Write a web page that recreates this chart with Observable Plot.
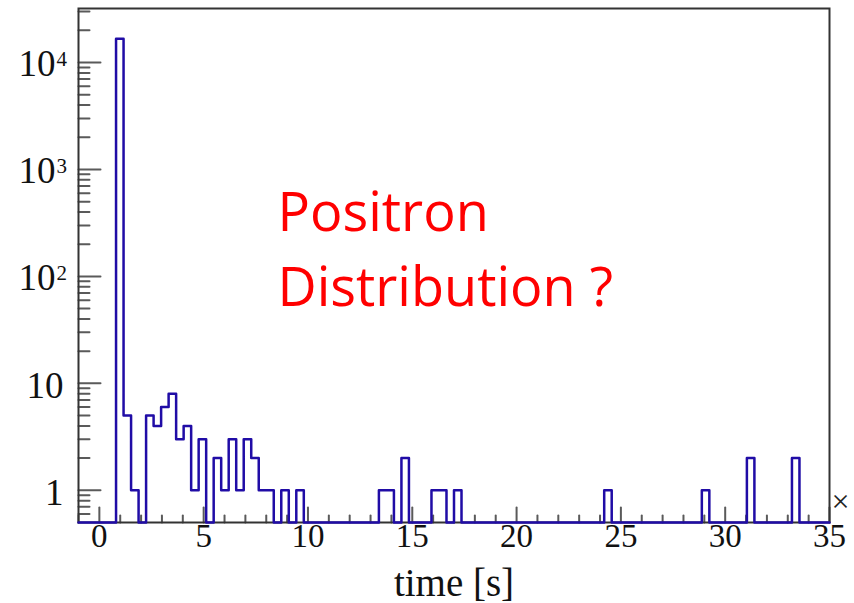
<!DOCTYPE html>
<html>
<head>
<meta charset="utf-8">
<script src="https://cdn.jsdelivr.net/npm/d3@7"></script>
<script src="https://cdn.jsdelivr.net/npm/@observablehq/plot@0.6"></script>
<style>
  html, body { margin: 0; padding: 0; background: #fff; }
</style>
</head>
<body>
<div id="chart"></div>
<script>
// Time histogram: 100 equal-width bins between binLow and binHigh (seconds)
const binLow = -1;
const binHigh = 35;
const counts = [
  0, 0, 0, 0, 0, 16700, 5, 1, 0, 5,
  4, 6, 8, 3, 4, 1, 3, 0, 2, 1,
  3, 1, 3, 2, 1, 1, 0, 1, 0, 1,
  0, 0, 0, 0, 0, 0, 0, 0, 0, 0,
  1, 1, 0, 2, 0, 0, 0, 1, 1, 0,
  1, 0, 0, 0, 0, 0, 0, 0, 0, 0,
  0, 0, 0, 0, 0, 0, 0, 0, 0, 0,
  1, 0, 0, 0, 0, 0, 0, 0, 0, 0,
  0, 0, 0, 1, 0, 0, 0, 0, 0, 2,
  0, 0, 0, 0, 0, 2, 0, 0, 0, 0
];

// Vertical range of the log axis
const yFloor = 0.5;
const yCeil = 32000;

// Axis ticks and labels
const xMajorTicks = [0, 5, 10, 15, 20, 25, 30, 35];
const xTickLabels = ["0", "5", "10", "15", "20", "25", "30", "35"];
const yMajorTicks = [1, 10, 100, 1000, 10000];
const yLabelBase = ["1", "10", "10", "10", "10"];
const yLabelExp = ["", "", "2", "3", "4"];
const xTitle = "time [s]";
const annotationLines = ["Positron", "Distribution ?"];

// Minor ticks: every second on x, 2..9 of each decade on y
const xMinorTicks = d3.range(binLow, binHigh + 1).filter(v => !xMajorTicks.includes(v));
const yMinorTicks = d3.range(-1, 5)
  .flatMap(e => d3.range(2, 10).map(m => m * Math.pow(10, e)))
  .filter(v => v > yFloor && v < yCeil && !yMajorTicks.includes(v));

// Step outline of the histogram; empty bins sit on the bottom of the frame
const binWidth = (binHigh - binLow) / counts.length;
const outline = counts.flatMap((c, i) => {
  const y = c > 0 ? c : yFloor;
  return [{x: binLow + i * binWidth, y}, {x: binLow + (i + 1) * binWidth, y}];
});

const yLabels = yMajorTicks.map((v, i) => ({v, base: yLabelBase[i], exp: yLabelExp[i]}));
const xLabels = xMajorTicks.map((v, i) => ({v, text: xTickLabels[i]}));

// Straight tick segments pointing into the frame
const tickRight = {draw(ctx, l) { ctx.moveTo(0, 0); ctx.lineTo(l, 0); }};
const tickUp = {draw(ctx, l) { ctx.moveTo(0, 0); ctx.lineTo(0, -l); }};
const tickStyle = {stroke: "#5a5a5a", strokeWidth: 2, anchor: "start"};

const serif = "'Liberation Serif', 'Times New Roman', serif";

const chart = Plot.plot({
  width: 854,
  height: 603,
  marginLeft: 78,
  marginRight: 25,
  marginTop: 8,
  marginBottom: 81,
  x: {domain: [binLow, binHigh], axis: null},
  y: {type: "log", domain: [yFloor, yCeil], axis: null},
  style: {fontFamily: serif, background: "#fff", overflow: "visible"},
  marks: [
    // y ticks
    Plot.vector(yMajorTicks, {y: d => d, frameAnchor: "left", length: 22, shape: tickRight, ...tickStyle}),
    Plot.vector(yMinorTicks, {y: d => d, frameAnchor: "left", length: 11, shape: tickRight, ...tickStyle}),
    // x ticks
    Plot.vector(xMajorTicks, {x: d => d, frameAnchor: "bottom", length: 15, shape: tickUp, ...tickStyle}),
    Plot.vector(xMinorTicks, {x: d => d, frameAnchor: "bottom", length: 7, shape: tickUp, ...tickStyle}),
    Plot.frame({stroke: "#333", strokeWidth: 2}),
    // histogram outline
    Plot.line(outline, {x: "x", y: "y", stroke: "#200ca6", strokeWidth: 2.5, curve: "linear"}),
    // y tick labels
    Plot.text(yLabels.filter(d => !d.exp), {
      y: "v", text: "base", frameAnchor: "left", textAnchor: "end",
      dx: -15, dy: 3, fontSize: 37, fill: "#111"
    }),
    Plot.text(yLabels.filter(d => d.exp), {
      y: "v", text: "base", frameAnchor: "left", textAnchor: "end",
      dx: -23, dy: 2, fontSize: 37, fill: "#111"
    }),
    Plot.text(yLabels.filter(d => d.exp), {
      y: "v", text: "exp", frameAnchor: "left", textAnchor: "start",
      dx: -22, dy: -3, fontSize: 21, fill: "#111"
    }),
    // x tick labels
    Plot.text(xLabels, {
      x: "v", text: "text", frameAnchor: "bottom", textAnchor: "middle",
      dy: 24, fontSize: 33, fill: "#111"
    }),
    // x axis title
    Plot.text([xTitle], {
      frameAnchor: "bottom", textAnchor: "middle", lineAnchor: "bottom",
      dy: 73, fontSize: 39, fill: "#111"
    }),
    // end-of-axis marker
    Plot.text(["\u00d7"], {
      frameAnchor: "bottom-right", textAnchor: "middle", dx: 11, dy: -11,
      fontSize: 32, fill: "#222"
    }),
    // annotation
    Plot.text([annotationLines.join("\n")], {
      frameAnchor: "top-left", textAnchor: "start", lineAnchor: "top",
      dx: 199, dy: 169, fontSize: 54, lineHeight: 1.39,
      fontFamily: "'Open Sans', 'Noto Sans', sans-serif", fill: "#ff0000"
    })
  ]
});

document.getElementById("chart").appendChild(chart);
</script>
</body>
</html>
